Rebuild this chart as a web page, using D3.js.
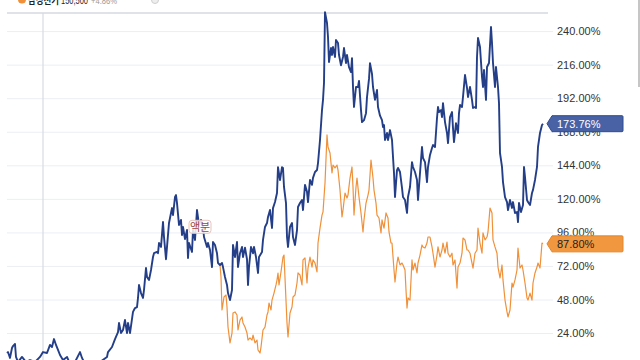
<!DOCTYPE html>
<html><head><meta charset="utf-8">
<script src="https://cdn.jsdelivr.net/npm/d3@7"></script>
<style>html,body{margin:0;padding:0;background:#fff;overflow:hidden}svg{display:block}</style>
</head><body>
<svg id="c" width="640" height="360"></svg>
<script>
// ---- data (t = trading-period index, v = cumulative return %) ----
const mainSeries = [[0,9.7],[1,10.4],[3,6.2],[5,13.3],[6,14.7],[8,16.2],[9,6.9],[11,3.3],[15,6.9],[19,3.3],[23,4.7],[28,3.3],[33,6.9],[36,10.4],[40,9.7],[43,15.5],[45,14],[46,16.9],[47,19.7],[49,15.5],[51,11.9],[53,8.3],[56,4.7],[60,6.9],[63,1.9],[68,3.3],[73,10.4],[75,6.2],[78,1.9],[83,3.3],[88,1.9],[93,3.3],[100,6.9],[101,10.4],[105,14],[108,19.7],[111,24.7],[112,31.2],[114,24],[116,26.2],[118,33.3],[120,24],[121,31.2],[123,24],[126,39.1],[128,41.9],[130,42.6],[131,49.1],[132,58.4],[134,52.6],[136,49.1],[137,54.8],[139,70.5],[140,64.1],[142,61.9],[144,69.1],[146,78.4],[147,81.1],[150,82],[151,81.1],[152,88.4],[154,85.6],[156,103.4],[157,92.7],[159,76.8],[160,85.6],[162,102.7],[164,109.9],[165,113.4],[166,108.4],[168,121.3],[169,122.7],[170,117],[172,101.3],[174,104.9],[175,94.1],[176,99.9],[178,91.3],[180,97.7],[181,77.7],[182,88.4],[185,82],[186,97.7],[188,90.6],[190,112],[192,101.3],[194,104.9],[196,99.9],[197,92.7],[200,85.6],[201,88.4],[203,83.4],[205,71.2],[206,89.1],[208,87],[210,81.1],[211,74.1],[213,72.7],[215,74.1],[216,71.2],[218,64.1],[220,58.4],[221,52.6],[223,47.6],[225,54.8],[226,87],[228,78.4],[230,89.1],[231,71.2],[233,81.1],[235,85.6],[236,78.4],[238,85],[240,76.8],[241,58.4],[242,71.2],[244,85.6],[246,81.1],[247,85.6],[249,78.4],[251,67],[252,78.4],[255,82],[256,90.6],[258,99.9],[260,102.7],[261,107],[263,112],[265,99.2],[266,113.4],[268,117.7],[270,124.2],[271,142.7],[273,133.4],[275,142.7],[276,142.1],[277,128.5],[279,117],[280,92.7],[281,85.6],[283,99.9],[285,102.7],[286,92.7],[288,87],[290,97.7],[291,114.2],[293,117],[295,119.2],[296,112],[298,130],[300,125],[301,117.7],[303,133.5],[305,130],[306,135],[308,139.2],[310,140.6],[311,145.6],[313,162.1],[315,183.5],[316,190.8],[317,202.9],[318,253.6],[320,245.8],[321,235.8],[322,217.9],[324,227.9],[325,222.9],[326,228.6],[328,221.5],[329,233.6],[331,231.5],[332,222.9],[334,215.6],[336,221.5],[337,227.9],[339,217.1],[340,222.9],[342,214.2],[344,210.7],[345,220.7],[346,200],[347,185.7],[349,200],[351,200],[352,204.4],[354,183.5],[355,174.9],[357,176.3],[359,181.3],[360,192.8],[362,205.8],[363,217.1],[365,209.3],[366,200],[368,190.8],[370,197.9],[371,185.7],[373,179.5],[375,176.3],[376,171.4],[377,172.8],[378,162.1],[380,167.1],[381,162.1],[383,169.2],[385,162.1],[386,150],[387,138.5],[388,121.3],[390,140.6],[391,142.1],[393,139.2],[395,127.8],[396,121.3],[398,119.2],[400,109.9],[401,121.3],[403,128.5],[405,146.3],[406,142.8],[408,139.2],[410,133.5],[411,119.2],[413,138.5],[415,157.1],[416,149.2],[418,146.3],[420,132],[421,142.8],[423,151.4],[425,156.4],[426,158.5],[428,157.1],[430,177.8],[431,185.7],[432,182.1],[434,183.5],[435,178.5],[436,188.5],[438,174.9],[440,167.1],[441,159.9],[443,178.5],[445,182.1],[446,170.6],[447,160.6],[449,174.2],[451,167.1],[452,181.4],[453,187.1],[455,185.7],[456,192.9],[458,208.6],[460,199.3],[461,192.9],[463,200],[465,190.8],[466,185],[468,185.7],[469,185],[470,221.5],[471,235.1],[473,228.6],[475,207.2],[476,200],[477,212.2],[479,190.8],[480,214.3],[482,217.2],[484,242.9],[485,231.5],[486,217.2],[488,200],[489,214.3],[491,200],[492,188.3],[493,152.8],[495,142.8],[496,132],[498,121.3],[500,117.7],[501,112],[503,119.2],[505,113.5],[506,117.7],[508,109.9],[510,110.6],[511,103.4],[512,117],[514,110.6],[516,115.6],[517,142.8],[518,135.6],[520,119.2],[521,117.7],[523,115.6],[525,124.2],[526,126.4],[528,133.5],[530,142.8],[531,157.1],[533,167.1],[535,172.8],[536,173.76]];

const compareSeries = [[213,72.7],[214,64.1],[215,40.5],[217,49.8],[219,51.2],[220,42.6],[221,28.3],[223,16.9],[225,24],[226,38.3],[228,39.1],[230,36.9],[231,26.2],[233,33.3],[235,35.5],[236,31.2],[238,28.3],[240,24],[241,19],[243,20.5],[245,19],[246,22.6],[248,16.9],[250,19],[251,11.9],[253,9.7],[254,14],[256,26.2],[258,28.3],[260,36.9],[261,39.1],[262,45.5],[264,40.5],[265,47.6],[267,52.6],[269,58.4],[270,61.9],[271,66.9],[272,58.4],[274,67.7],[276,78.4],[277,79.8],[278,63.4],[280,31.2],[281,21.2],[283,38.3],[285,42.6],[286,49.8],[288,51.2],[290,59.8],[291,67],[293,65.5],[295,58.4],[296,76.3],[298,77.7],[300,59.8],[301,70.5],[303,78.4],[305,71.2],[306,76.3],[308,74.1],[310,67.7],[311,88.4],[313,99.1],[315,108.4],[316,110.6],[318,131.3],[320,165.7],[321,157.1],[323,152.8],[325,138.5],[326,144.2],[328,142.1],[330,144.2],[331,140.6],[333,126.3],[335,107],[336,112],[338,124.2],[340,120.6],[341,122.7],[343,134.9],[345,142.8],[346,128.5],[347,108.4],[349,128.5],[350,134.9],[352,121.3],[354,109.9],[356,96.3],[357,104.9],[359,117],[361,122.7],[362,126.3],[364,147.8],[366,134.9],[367,126.3],[369,117],[370,108.4],[372,106.3],[374,95.6],[375,104.9],[377,99.1],[379,109.9],[381,106.3],[382,96.3],[384,88.4],[385,88.4],[387,69.1],[388,60.5],[390,74.1],[391,78.4],[393,72.7],[395,74.1],[396,72.7],[398,69.1],[399,54.8],[400,41.9],[401,49.1],[403,47.6],[405,76.3],[406,69.1],[408,74.1],[410,67],[411,74.1],[413,79.8],[415,87],[416,85.6],[418,84.8],[420,88.4],[421,92.7],[423,92.7],[425,85.6],[426,81.1],[428,71.2],[430,79.8],[431,85.6],[433,78.4],[435,83.4],[436,88.4],[438,81.1],[440,89.1],[441,81.1],[443,78.4],[445,81.1],[446,72.7],[448,76.3],[450,56.2],[451,71.2],[453,74.1],[455,81.1],[456,92],[458,90.6],[460,83.4],[461,83.4],[463,81.1],[465,74.1],[466,70.5],[468,81.1],[470,83.4],[471,99.1],[473,88.4],[475,81.1],[476,95.6],[478,90.6],[480,92.7],[481,96.3],[483,113.4],[485,109.9],[486,90.6],[488,85.6],[490,81.1],[491,71.2],[493,63.4],[495,72.7],[496,62],[498,47.6],[500,39.1],[501,35.5],[503,40.5],[505,59.8],[506,56.9],[508,62],[510,69.1],[511,84.8],[513,70.5],[515,72.7],[516,69.1],[518,59.8],[520,49.1],[521,47.6],[523,52.6],[525,47.6],[526,59.8],[528,67],[530,71.2],[531,74.1],[533,70.5],[535,88.4],[536,87.8]];

const yTicks = [24, 48, 72, 96, 120, 144, 168, 192, 216, 240];
const dividerT = [36];
const events = [{t: 193, v: 100, label: "액분"}];
const legendName = "삼성전기", legendPrice = "150,500", legendChange = "+4.86%";
const lastMain = 173.76, lastCompare = 87.80;

// ---- drawing ----
const svg = d3.select("#c");
const W = 640, H = 360;
const x = d3.scaleLinear().domain([0, 536]).range([7, 543]);
const y = d3.scaleLinear().domain([0, 240]).range([366.6, 31.1]);
const plotL = 7, plotR = 553, plotTop = 13;

// gridlines
const grid = svg.append("g").attr("transform", `translate(${plotL},0)`)
  .call(d3.axisRight(y).tickValues(yTicks).tickSize(plotR - plotL).tickFormat(""));
grid.select(".domain").remove();
grid.selectAll("line").attr("stroke", "#eceef3").attr("stroke-width", 1);

// top frame line
svg.append("line").attr("x1", plotL).attr("x2", 548).attr("y1", plotTop).attr("y2", plotTop)
  .attr("stroke", "#d5d8e0").attr("stroke-width", 1.5);

// vertical divider
svg.selectAll(".div").data(dividerT).join("line")
  .attr("x1", d => x(d)).attr("x2", d => x(d)).attr("y1", plotTop).attr("y2", H)
  .attr("stroke", "#d7dae2").attr("stroke-width", 1.2);

// y axis labels
const ax = svg.append("g").attr("transform", `translate(${plotR},0)`)
  .call(d3.axisRight(y).tickValues(yTicks).tickSize(0).tickPadding(4).tickFormat(d => d.toFixed(2) + "%"));
ax.select(".domain").remove();
ax.selectAll("text").attr("fill", "#333").style("font-family", "'Liberation Sans', Arial, sans-serif").style("font-size", "11px");

const line = d3.line().x(d => x(d[0])).y(d => y(d[1]));

svg.append("path").datum(compareSeries).attr("d", line)
  .attr("fill", "none").attr("stroke", "#f0913a").attr("stroke-width", 1.2).attr("stroke-linejoin", "round");
svg.append("path").datum(mainSeries).attr("d", line)
  .attr("fill", "none").attr("stroke", "#243f88").attr("stroke-width", 1.9).attr("stroke-linejoin", "round");

// event marker
const ev = svg.selectAll(".ev").data(events).join("g")
  .attr("transform", d => `translate(${x(d.t)},${y(d.v)})`);
ev.append("rect").attr("x", -11).attr("y", -6.5).attr("width", 22).attr("height", 13).attr("rx", 3)
  .attr("fill", "rgba(255,255,255,0.85)").attr("stroke", "#e7c3bd").attr("stroke-width", 1);
ev.append("text").attr("text-anchor", "middle").attr("y", 4).text(d => d.label)
  .attr("fill", "#a0443c").style("font-family", "'Noto Sans CJK KR', sans-serif").style("font-size", "11px");

// last-value tags
function tag(v, fill, stroke, txtColor) {
  const g = svg.append("g").attr("transform", `translate(547,${y(v)})`);
  g.append("path").attr("d", "M0,0 L5,-8 L75,-8 Q76,-8 76,-7 L76,7 Q76,8 75,8 L5,8 Z")
    .attr("fill", fill).attr("stroke", stroke).attr("stroke-width", 1);
  g.append("text").attr("x", 10).attr("y", 4).text(v.toFixed(2) + "%")
    .attr("fill", txtColor).style("font-family", "'Liberation Sans', Arial, sans-serif")
    .style("font-size", "11px");
}
tag(lastMain, "#4862a5", "#2f4a8e", "#ffffff");
tag(lastCompare, "#f19740", "#e2862c", "#222222");

// legend (cut off at top, as in the reference)
svg.append("circle").attr("cx", 22).attr("cy", -0.5).attr("r", 4).attr("fill", "#f0913a");
const lf = "'Noto Sans CJK KR', 'Liberation Sans', sans-serif";
svg.append("text").attr("x", 28).attr("y", 4).attr("textLength", 31).attr("lengthAdjust", "spacingAndGlyphs")
  .text(legendName).attr("fill", "#222").style("font-family", lf).style("font-size", "10px").style("font-weight", "bold");
svg.append("text").attr("x", 61).attr("y", 4).attr("textLength", 27).attr("lengthAdjust", "spacingAndGlyphs")
  .text(legendPrice).attr("fill", "#222").style("font-family", "'Liberation Sans', sans-serif").style("font-size", "10px");
svg.append("text").attr("x", 91).attr("y", 4).attr("textLength", 26).attr("lengthAdjust", "spacingAndGlyphs")
  .text(legendChange).attr("fill", "#999").style("font-family", "'Liberation Sans', sans-serif").style("font-size", "9px");
svg.append("circle").attr("cx", 155).attr("cy", 0).attr("r", 3.5).attr("fill", "#eeeeee").attr("stroke", "#cfcfcf");

// scrollbar sliver
svg.append("rect").attr("x", 638).attr("y", 0).attr("width", 2).attr("height", 87).attr("fill", "#c6c6c6");
</script>
</body></html>
